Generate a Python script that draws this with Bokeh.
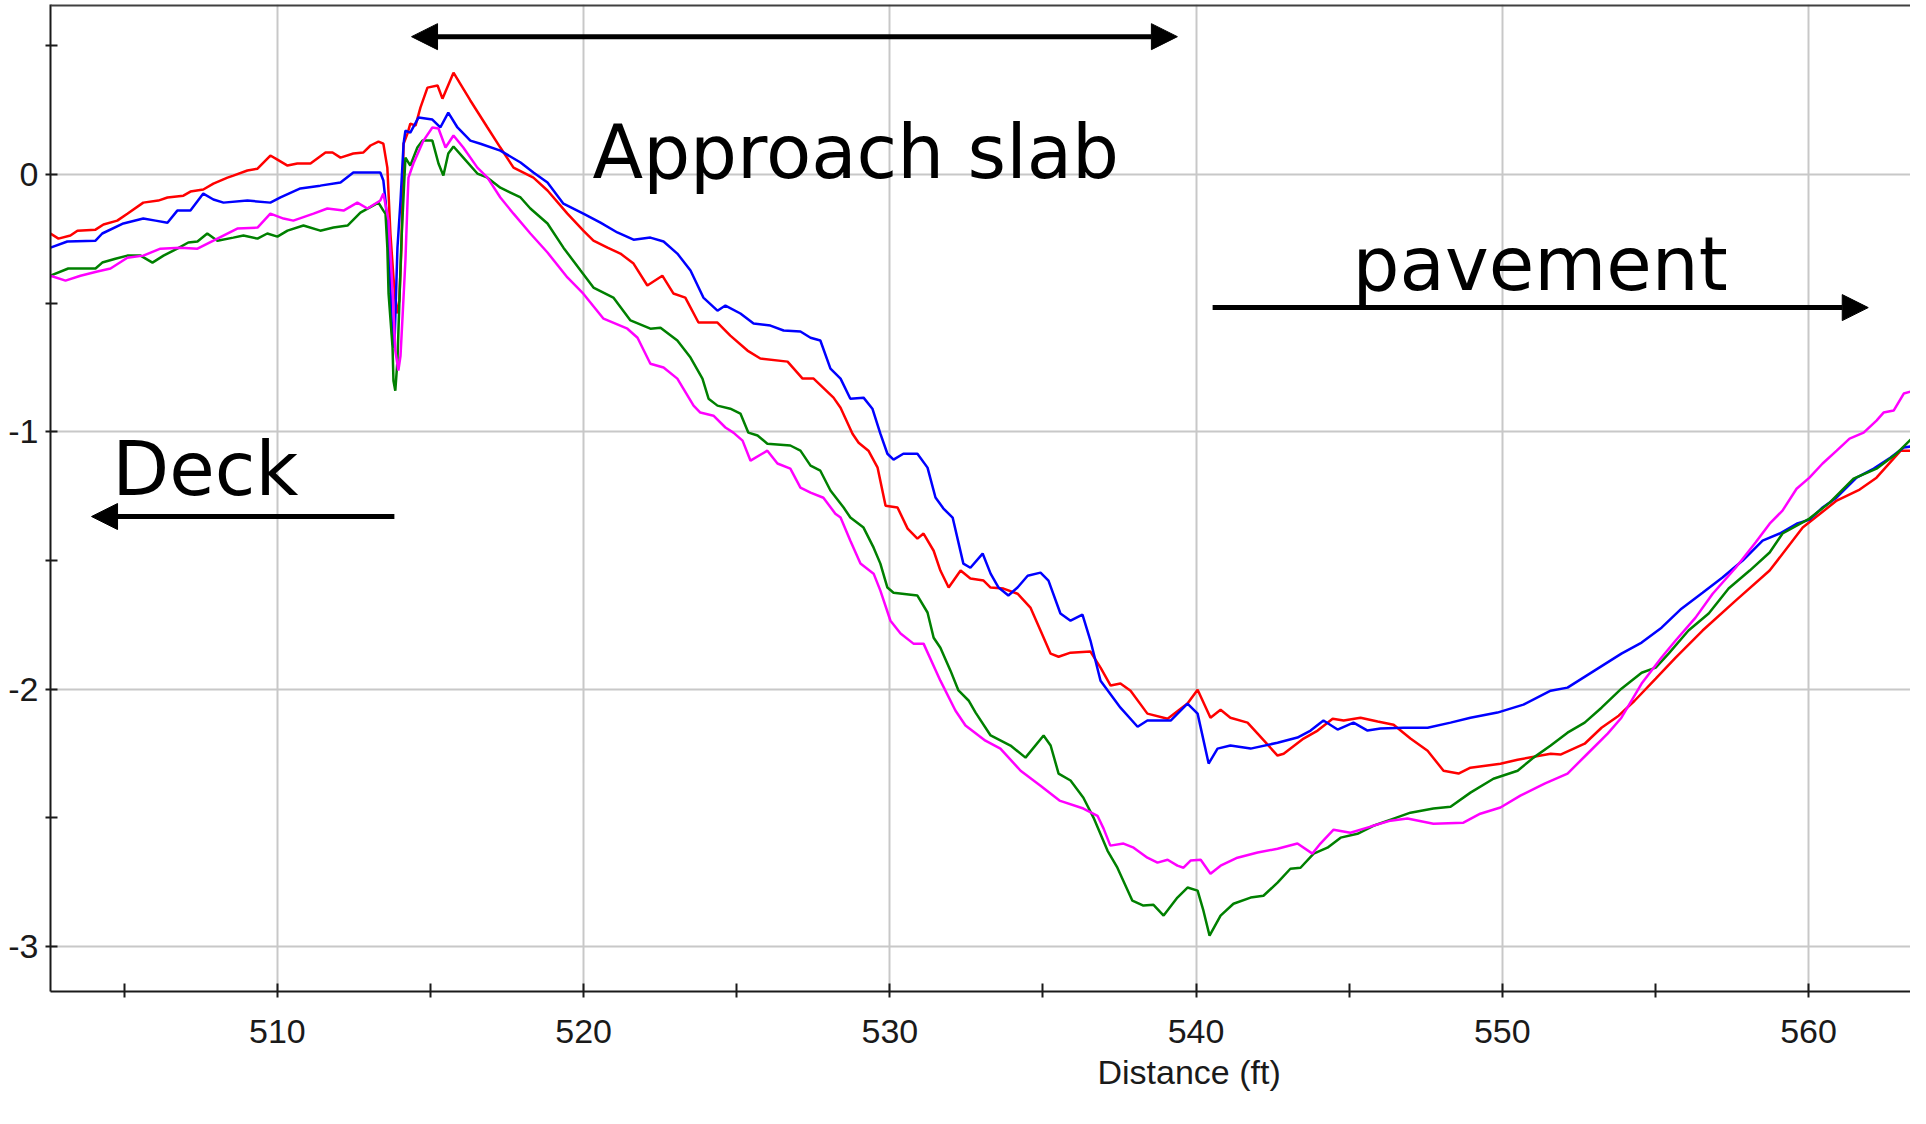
from bokeh.plotting import figure
from bokeh.models import Range1d, FixedTicker, Arrow, NormalHead, Span, Title
from bokeh.core.properties import value
from bokeh.embed import file_html
from bokeh.resources import INLINE

# ---------------- data (distance in ft, elevation) ----------------
red_x = [502.59, 502.85, 503.24, 503.47, 504.06, 504.32, 504.77, 505.10, 505.62, 506.11,
         506.41, 506.93, 507.16, 507.58, 507.91, 508.37, 508.56, 509.02, 509.35, 509.77,
         510.00, 510.33, 510.65, 511.08, 511.57, 511.80, 512.06, 512.48, 512.81, 513.04,
         513.30, 513.46, 513.59, 513.69, 513.79, 513.89, 513.98, 514.05, 514.12, 514.25,
         514.34, 514.51, 514.67, 514.90, 515.23, 515.39, 515.75, 516.30, 516.86, 517.28,
         517.71, 518.36, 518.82, 519.47, 519.99, 520.32, 520.78, 521.20, 521.63, 522.08,
         522.57, 522.93, 523.32, 523.75, 524.37, 524.79, 525.35, 525.77, 526.66, 527.15,
         527.51, 528.16, 528.39, 528.78, 528.98, 529.30, 529.60, 529.86, 530.25, 530.58,
         530.90, 531.10, 531.43, 531.65, 531.92, 532.31, 532.63, 533.06, 533.29, 533.71,
         534.17, 534.59, 534.92, 535.25, 535.51, 535.90, 536.55, 536.88, 537.21, 537.53,
         537.86, 538.41, 539.07, 539.72, 540.05, 540.47, 540.80, 541.12, 541.68, 542.01,
         542.66, 542.86, 543.51, 543.97, 544.46, 544.82, 545.37, 545.93, 546.45, 547.00,
         547.56, 548.08, 548.57, 548.96, 549.94, 550.50, 551.58, 551.90, 552.69, 553.24,
         553.80, 554.32, 555.01, 555.66, 556.54, 557.62, 558.73, 559.81, 560.92, 561.67,
         562.22, 563.01, 563.56]
red_y = [-0.229, -0.249, -0.237, -0.218, -0.214, -0.194, -0.179, -0.152, -0.109, -0.101,
         -0.089, -0.082, -0.066, -0.058, -0.035, -0.012, -0.004, 0.016, 0.023, 0.074,
         0.058, 0.035, 0.043, 0.043, 0.086, 0.086, 0.066, 0.082, 0.086, 0.113,
         0.128, 0.120, 0.027, -0.229, -0.400, -0.540, -0.490, -0.284, 0.120, 0.160,
         0.198, 0.190, 0.260, 0.338, 0.346, 0.295, 0.396, 0.288, 0.183, 0.105,
         0.027, -0.012, -0.062, -0.152, -0.218, -0.257, -0.284, -0.307, -0.346, -0.431,
         -0.393, -0.462, -0.478, -0.575, -0.575, -0.626, -0.684, -0.715, -0.727, -0.793,
         -0.793, -0.867, -0.906, -1.007, -1.042, -1.073, -1.139, -1.287, -1.294, -1.376,
         -1.415, -1.395, -1.462, -1.539, -1.605, -1.539, -1.570, -1.578, -1.605, -1.609,
         -1.629, -1.683, -1.772, -1.862, -1.874, -1.858, -1.854, -1.916, -1.986, -1.978,
         -2.006, -2.095, -2.115, -2.056, -2.002, -2.111, -2.080, -2.111, -2.130, -2.173,
         -2.258, -2.251, -2.192, -2.161, -2.115, -2.122, -2.111, -2.126, -2.138, -2.192,
         -2.239, -2.317, -2.328, -2.305, -2.290, -2.274, -2.251, -2.254, -2.212, -2.150,
         -2.103, -2.045, -1.959, -1.877, -1.772, -1.656, -1.539, -1.372, -1.267, -1.224,
         -1.178, -1.073, -1.073]

blue_x = [502.59, 503.14, 504.06, 504.28, 504.97, 505.62, 506.02, 506.41, 506.73, 507.16,
          507.58, 507.91, 508.24, 509.02, 509.77, 510.10, 510.75, 511.40, 512.06, 512.48,
          513.36, 513.46, 513.53, 513.63, 513.69, 513.76, 513.82, 513.92, 514.02, 514.12,
          514.18, 514.34, 514.61, 515.06, 515.32, 515.58, 515.88, 516.30, 516.63, 517.28,
          517.94, 518.36, 518.82, 519.34, 519.99, 520.55, 521.10, 521.63, 522.18, 522.61,
          523.06, 523.49, 523.91, 524.37, 524.63, 525.12, 525.55, 526.10, 526.53, 527.08,
          527.41, 527.73, 528.06, 528.39, 528.71, 529.14, 529.43, 529.69, 529.92, 530.12,
          530.44, 530.90, 531.23, 531.49, 531.75, 532.05, 532.40, 532.63, 533.03, 533.29,
          533.55, 533.87, 534.17, 534.50, 534.92, 535.18, 535.57, 535.90, 536.29, 536.55,
          536.88, 537.53, 538.09, 538.41, 539.17, 539.72, 540.05, 540.41, 540.70, 541.12,
          541.78, 542.66, 543.31, 543.74, 544.16, 544.62, 545.14, 545.60, 546.02, 546.77,
          547.56, 548.31, 548.96, 549.84, 550.69, 551.58, 552.13, 553.01, 553.89, 554.55,
          555.20, 555.85, 556.54, 557.19, 557.85, 558.50, 559.06, 559.61, 560.03, 560.46,
          560.92, 561.57, 562.13, 562.68, 563.11, 563.56]
blue_y = [-0.284, -0.260, -0.257, -0.229, -0.190, -0.171, -0.179, -0.187, -0.140, -0.140,
          -0.074, -0.097, -0.109, -0.101, -0.109, -0.089, -0.054, -0.043, -0.031, 0.008,
          0.008, -0.023, -0.101, -0.257, -0.439, -0.657, -0.672, -0.284, -0.101, 0.120,
          0.171, 0.163, 0.222, 0.214, 0.183, 0.241, 0.183, 0.132, 0.120, 0.093,
          0.047, 0.008, -0.031, -0.113, -0.152, -0.187, -0.225, -0.253, -0.245, -0.260,
          -0.307, -0.373, -0.478, -0.529, -0.509, -0.540, -0.579, -0.587, -0.606, -0.610,
          -0.634, -0.645, -0.754, -0.793, -0.871, -0.867, -0.910, -1.007, -1.085, -1.108,
          -1.085, -1.085, -1.139, -1.255, -1.298, -1.333, -1.512, -1.528, -1.473, -1.551,
          -1.605, -1.636, -1.605, -1.559, -1.547, -1.578, -1.706, -1.734, -1.710, -1.811,
          -1.967, -2.072, -2.146, -2.122, -2.122, -2.056, -2.095, -2.289, -2.231, -2.219,
          -2.231, -2.208, -2.188, -2.161, -2.122, -2.157, -2.130, -2.161, -2.153, -2.150,
          -2.150, -2.130, -2.111, -2.091, -2.060, -2.006, -1.994, -1.928, -1.862, -1.819,
          -1.761, -1.687, -1.625, -1.566, -1.500, -1.423, -1.395, -1.357, -1.341, -1.294,
          -1.255, -1.178, -1.143, -1.100, -1.061, -1.053]

green_x = [502.59, 503.17, 504.06, 504.28, 504.71, 505.10, 505.53, 505.92, 506.28, 506.73,
           507.09, 507.39, 507.71, 508.04, 508.56, 508.89, 509.35, 509.67, 510.00, 510.33,
           510.85, 511.40, 511.83, 512.29, 512.71, 513.30, 513.46, 513.53, 513.59, 513.63,
           513.76, 513.79, 513.85, 513.92, 514.05, 514.18, 514.34, 514.57, 514.74, 515.06,
           515.26, 515.42, 515.58, 515.75, 516.07, 516.53, 516.86, 517.28, 517.61, 517.94,
           518.26, 518.82, 519.34, 519.90, 520.32, 520.97, 521.53, 522.18, 522.51, 523.06,
           523.49, 523.88, 524.08, 524.37, 524.79, 525.12, 525.38, 525.68, 526.00, 526.75,
           527.08, 527.41, 527.73, 528.06, 528.49, 528.71, 529.14, 529.47, 529.69, 529.92,
           530.12, 530.90, 531.23, 531.43, 531.65, 531.98, 532.24, 532.57, 532.80, 533.29,
           533.94, 534.43, 535.02, 535.25, 535.51, 535.90, 536.32, 536.65, 537.11, 537.43,
           537.92, 538.28, 538.61, 538.94, 539.39, 539.72, 540.05, 540.24, 540.44, 540.80,
           541.22, 541.78, 542.20, 542.66, 543.08, 543.41, 543.84, 544.29, 544.72, 545.27,
           545.79, 546.45, 547.00, 547.75, 548.31, 548.96, 549.71, 550.50, 551.02, 551.58,
           552.13, 552.69, 553.24, 553.89, 554.55, 555.01, 555.43, 556.08, 556.74, 557.39,
           558.08, 558.73, 559.15, 560.03, 560.69, 561.47, 562.22, 562.88, 563.56]
green_y = [-0.393, -0.365, -0.365, -0.342, -0.327, -0.315, -0.315, -0.342, -0.315, -0.288,
           -0.264, -0.260, -0.229, -0.257, -0.245, -0.237, -0.249, -0.229, -0.241, -0.218,
           -0.198, -0.218, -0.206, -0.198, -0.148, -0.109, -0.140, -0.152, -0.284, -0.463,
           -0.672, -0.801, -0.840, -0.723, -0.257, 0.066, 0.035, 0.105, 0.132, 0.132,
           0.043, -0.004, 0.082, 0.109, 0.066, 0.004, -0.012, -0.051, -0.070, -0.089,
           -0.132, -0.190, -0.284, -0.373, -0.439, -0.478, -0.567, -0.599, -0.595, -0.645,
           -0.711, -0.793, -0.871, -0.898, -0.910, -0.929, -1.003, -1.014, -1.046, -1.053,
           -1.073, -1.131, -1.151, -1.228, -1.294, -1.333, -1.372, -1.450, -1.512, -1.605,
           -1.625, -1.636, -1.702, -1.800, -1.839, -1.928, -2.005, -2.044, -2.091, -2.180,
           -2.219, -2.266, -2.180, -2.219, -2.328, -2.355, -2.422, -2.499, -2.628, -2.694,
           -2.822, -2.841, -2.838, -2.880, -2.810, -2.771, -2.783, -2.861, -2.958, -2.880,
           -2.834, -2.810, -2.803, -2.752, -2.698, -2.694, -2.639, -2.616, -2.577, -2.562,
           -2.531, -2.503, -2.480, -2.464, -2.457, -2.402, -2.348, -2.317, -2.266, -2.219,
           -2.169, -2.130, -2.072, -1.998, -1.936, -1.916, -1.862, -1.772, -1.706, -1.609,
           -1.539, -1.469, -1.395, -1.337, -1.275, -1.182, -1.143, -1.084, -1.003]

magenta_x = [502.59, 503.08, 503.57, 504.12, 504.55, 505.10, 505.62, 506.18, 506.83, 507.39,
             507.91, 508.69, 509.35, 509.77, 510.20, 510.52, 511.18, 511.63, 512.16, 512.61,
             512.94, 513.36, 513.46, 513.63, 513.76, 513.85, 513.95, 514.02, 514.08, 514.18,
             514.25, 514.28, 514.44, 514.77, 515.06, 515.26, 515.49, 515.75, 516.07, 516.53,
             516.86, 517.28, 517.71, 518.26, 518.82, 519.47, 519.99, 520.65, 521.43, 521.76,
             522.18, 522.61, 523.06, 523.59, 523.81, 524.24, 524.63, 524.89, 525.19, 525.45,
             526.00, 526.33, 526.75, 527.08, 527.41, 527.83, 528.22, 528.39, 528.71, 529.04,
             529.47, 529.69, 530.02, 530.35, 530.77, 531.10, 531.65, 532.14, 532.47, 533.12,
             533.61, 534.27, 534.92, 535.54, 536.32, 536.78, 536.98, 537.20, 537.63, 537.96,
             538.41, 538.74, 539.07, 539.39, 539.59, 539.82, 540.15, 540.47, 540.80, 541.35,
             542.01, 542.66, 543.31, 543.80, 544.06, 544.49, 545.04, 545.70, 546.35, 546.90,
             547.75, 548.73, 549.28, 549.94, 550.59, 551.38, 552.13, 552.78, 553.44, 553.89,
             554.55, 555.20, 555.66, 556.31, 556.87, 557.62, 558.27, 558.73, 559.15, 559.61,
             560.03, 560.46, 560.92, 561.34, 561.80, 562.22, 562.45, 562.78, 563.11, 563.56]
magenta_y = [-0.393, -0.412, -0.393, -0.377, -0.365, -0.323, -0.315, -0.288, -0.284, -0.288,
             -0.257, -0.210, -0.206, -0.152, -0.171, -0.179, -0.152, -0.132, -0.140, -0.109,
             -0.132, -0.101, -0.074, -0.179, -0.451, -0.684, -0.762, -0.704, -0.567, -0.334,
             -0.101, -0.012, 0.043, 0.132, 0.183, 0.179, 0.105, 0.152, 0.105, 0.027,
             -0.012, -0.089, -0.152, -0.229, -0.303, -0.400, -0.463, -0.560, -0.599, -0.634,
             -0.735, -0.750, -0.793, -0.898, -0.925, -0.937, -0.983, -1.003, -1.034, -1.112,
             -1.073, -1.123, -1.143, -1.217, -1.236, -1.256, -1.318, -1.333, -1.423, -1.512,
             -1.551, -1.617, -1.734, -1.784, -1.823, -1.823, -1.967, -2.083, -2.141, -2.200,
             -2.231, -2.317, -2.375, -2.433, -2.464, -2.492, -2.542, -2.608, -2.600, -2.616,
             -2.655, -2.674, -2.663, -2.686, -2.694, -2.666, -2.663, -2.717, -2.686, -2.655,
             -2.635, -2.620, -2.600, -2.639, -2.600, -2.546, -2.558, -2.534, -2.511, -2.503,
             -2.523, -2.519, -2.484, -2.460, -2.414, -2.367, -2.328, -2.251, -2.173, -2.111,
             -1.978, -1.877, -1.811, -1.722, -1.629, -1.528, -1.430, -1.357, -1.306, -1.221,
             -1.178, -1.123, -1.073, -1.026, -1.003, -0.956, -0.925, -0.917, -0.851, -0.836]

x_major_ticks = [510, 520, 530, 540, 550, 560]
x_minor_ticks = [505, 515, 525, 535, 545, 555]
y_major_ticks = [-3, -2, -1, 0]
y_major_labels = ["-3", "-2", "-1", "0"]
y_minor_ticks = [-2.5, -1.5, -0.5, 0.5]
x_axis_title = "Distance (ft)"

annotations = ["Approach slab", "pavement", "Deck"]

# ---------------- figure ----------------
X0, X1 = 502.59, 563.33
Y0, Y1 = -3.175, 0.661

p = figure(width=1910, height=1108, x_range=Range1d(X0, X1), y_range=Range1d(Y0, Y1),
           output_backend="svg", toolbar_location=None,
           min_border_left=50, min_border_right=0, min_border_top=4, min_border_bottom=117)
p.background_fill_color = "white"
p.border_fill_color = "white"
p.outline_line_color = None

tick_font = "Liberation Sans"

p.xaxis.ticker = FixedTicker(ticks=x_major_ticks, minor_ticks=x_minor_ticks)
p.yaxis.ticker = FixedTicker(ticks=y_major_ticks, minor_ticks=y_minor_ticks)
p.yaxis.major_label_overrides = {t: s for t, s in zip(y_major_ticks, y_major_labels)}
for ax in (p.xaxis, p.yaxis):
    ax.axis_line_color = "#1a1a1a"
    ax.axis_line_width = 2
    ax.major_tick_line_color = "#1a1a1a"
    ax.minor_tick_line_color = "#1a1a1a"
    ax.major_tick_line_width = 2
    ax.minor_tick_line_width = 2
    ax.major_label_text_font = tick_font
    ax.major_label_text_font_size = "34px"
    ax.major_label_text_color = "#1a1a1a"
p.xaxis.major_tick_in = 8
p.xaxis.major_tick_out = 6
p.xaxis.minor_tick_in = 8
p.xaxis.minor_tick_out = 6
p.xaxis.major_label_standoff = 22
p.yaxis.major_tick_in = 7
p.yaxis.major_tick_out = 5
p.yaxis.minor_tick_in = 7
p.yaxis.minor_tick_out = 5
p.yaxis.major_label_standoff = 7

p.xgrid.ticker = FixedTicker(ticks=x_major_ticks)
p.ygrid.ticker = FixedTicker(ticks=y_major_ticks)
for g in (p.xgrid, p.ygrid):
    g.grid_line_color = "#c8c8c8"
    g.grid_line_width = 2

# top border line
p.add_layout(Span(location=Y1, dimension="width", line_color="#404040", line_width=4))

# series
p.line(red_x, red_y, line_color="#ff0000", line_width=2.5)
p.line(blue_x, blue_y, line_color="#0000ff", line_width=2.5)
p.line(green_x, green_y, line_color="#008000", line_width=2.5)
p.line(magenta_x, magenta_y, line_color="#ff00ff", line_width=2.5)

# annotation arrows
def head():
    return NormalHead(size=26, fill_color="black", line_color="black", line_width=1)

p.add_layout(Arrow(start=head(), end=head(), x_start=514.38, y_start=0.536,
                   x_end=539.39, y_end=0.536, line_width=5, line_color="black"))
p.add_layout(Arrow(end=head(), x_start=540.54, y_start=-0.517,
                   x_end=561.95, y_end=-0.517, line_width=5, line_color="black"))
p.add_layout(Arrow(end=head(), x_start=513.82, y_start=-1.329,
                   x_end=503.93, y_end=-1.329, line_width=5, line_color="black"))

ann_font = value("DejaVu Sans")
p.text(x=[520.29, 545.11, 504.61], y=[0.086, -0.346, -1.143], text=annotations,
       text_font=ann_font, text_font_size="74px", text_color="black",
       text_align="left", text_baseline="alphabetic")

# x-axis title, placed under the axis a little right of centre
p.add_layout(Title(text=x_axis_title, align="left", offset=1047, standoff=10,
                   vertical_align="bottom", text_font=tick_font,
                   text_font_size="34px", text_font_style="normal",
                   text_color="#1a1a1a"), "below")

open("out.html", "w").write(file_html(p, INLINE))
